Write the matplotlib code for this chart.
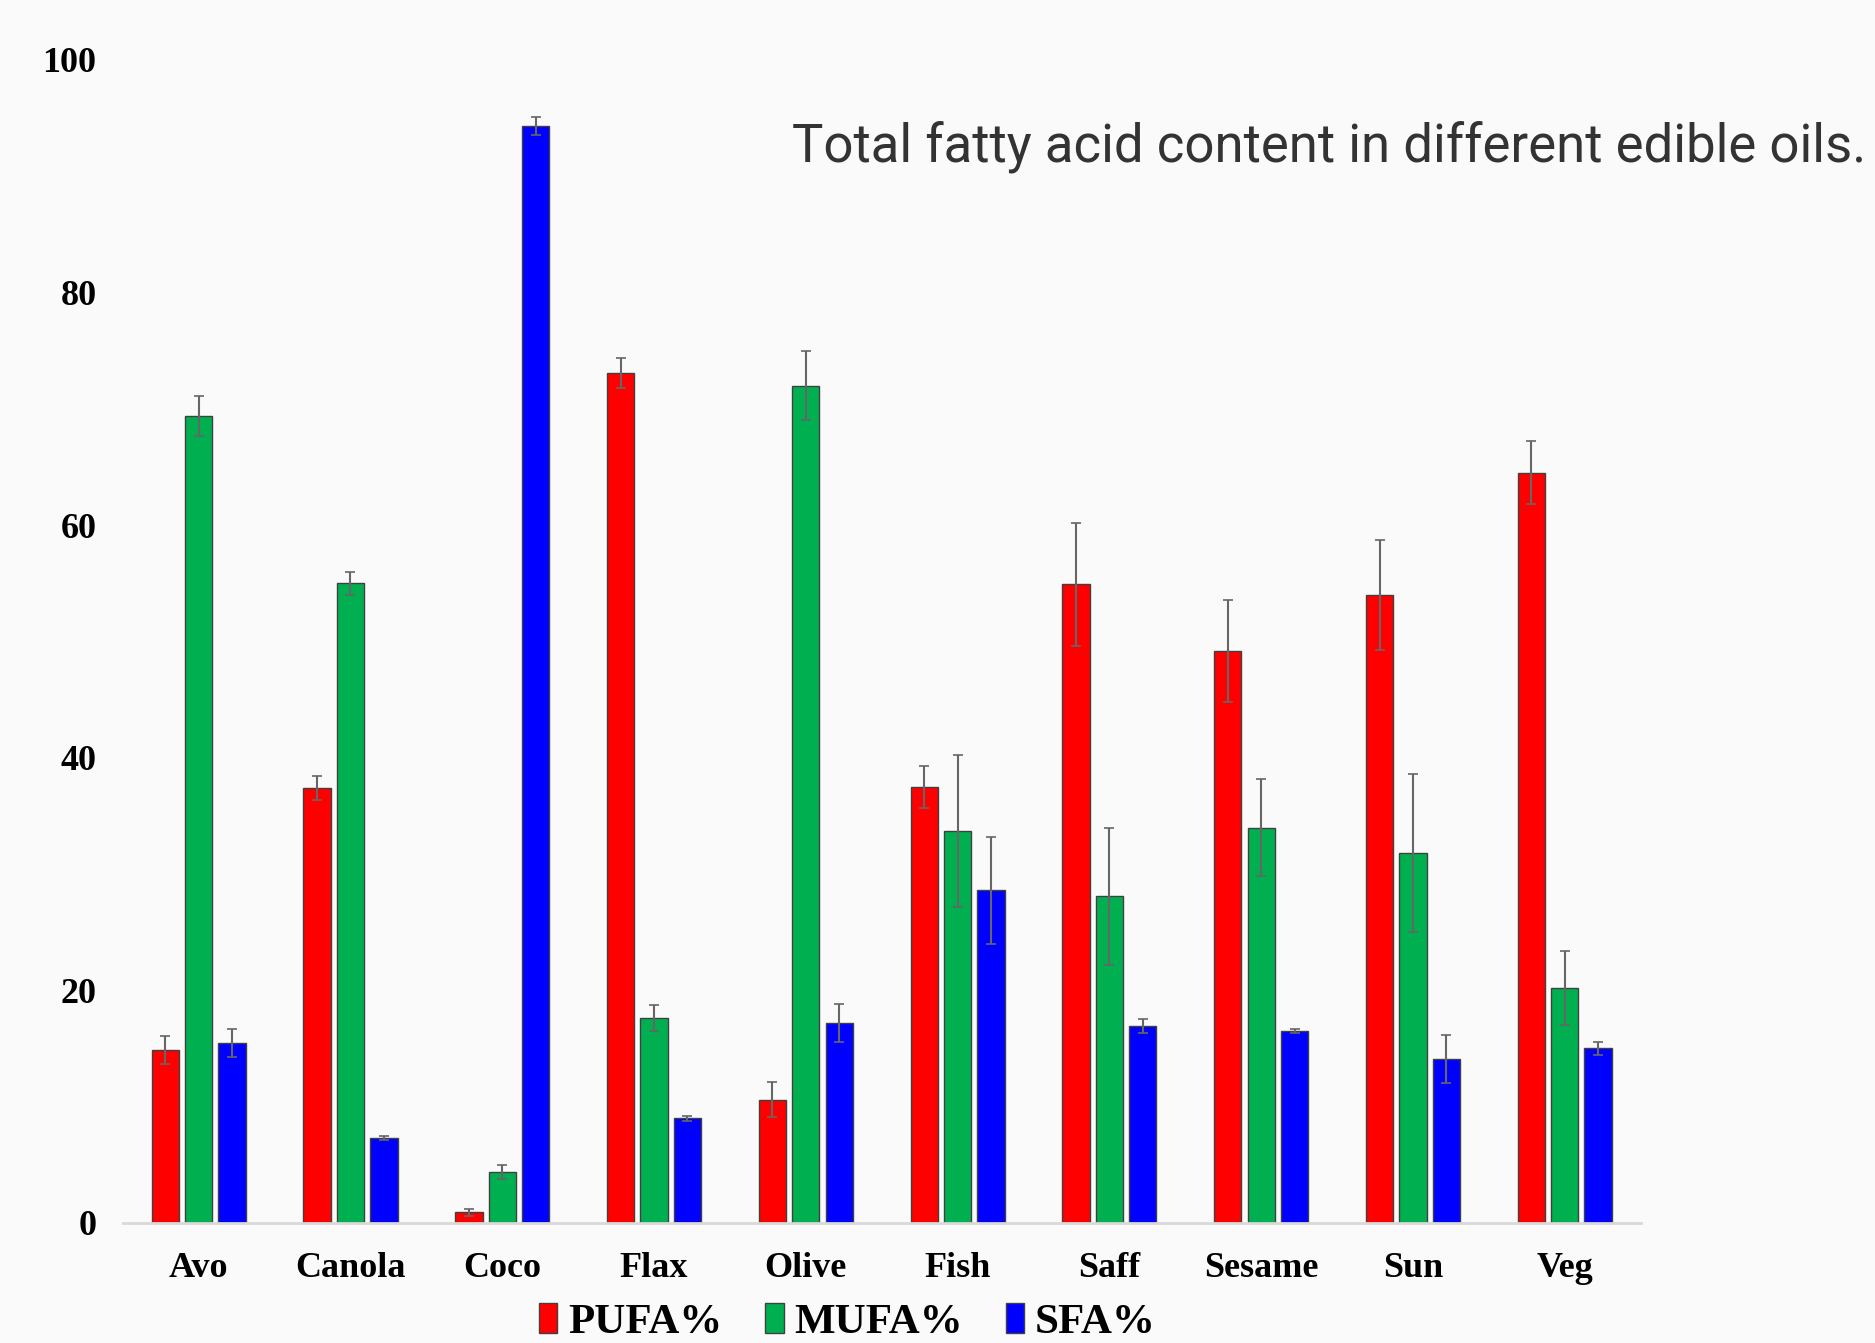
import matplotlib
matplotlib.use("Agg")
import matplotlib.pyplot as plt
import numpy as np

categories = ["Avo", "Canola", "Coco", "Flax", "Olive", "Fish", "Saff", "Sesame", "Sun", "Veg"]
pufa = [14.9, 37.4, 0.9, 73.1, 10.6, 37.5, 54.9, 49.2, 54.0, 64.5]
pufa_err = [1.2, 1.0, 0.3, 1.3, 1.5, 1.8, 5.3, 4.4, 4.7, 2.7]
mufa = [69.4, 55.0, 4.4, 17.6, 72.0, 33.7, 28.1, 34.0, 31.8, 20.2]
mufa_err = [1.7, 1.0, 0.6, 1.1, 3.0, 6.5, 5.9, 4.2, 6.8, 3.2]
sfa = [15.5, 7.3, 94.3, 9.0, 17.2, 28.6, 16.9, 16.5, 14.1, 15.0]
sfa_err = [1.2, 0.2, 0.8, 0.2, 1.6, 4.6, 0.6, 0.2, 2.1, 0.6]
series_names = ["PUFA%", "MUFA%", "SFA%"]
colors = ["#ff0000", "#00b050", "#0000ff"]
yticks = [0, 20, 40, 60, 80, 100]
title = "Total fatty acid content in different edible oils."

bg = "#fafafa"
fig = plt.figure(figsize=(18.75, 13.43), dpi=100, facecolor=bg)
ax = fig.add_axes([0.0655, 0.0894, 0.8095, 0.866], facecolor=bg)

x = np.arange(len(categories))
width = 0.18
offsets = [-0.22, 0.0, 0.22]
handles = []
for vals, errs, c, name, off in zip([pufa, mufa, sfa], [pufa_err, mufa_err, sfa_err], colors, series_names, offsets):
    b = ax.bar(x + off, vals, width, color=c, edgecolor="#404040", linewidth=1.0, label=name,
               yerr=errs, error_kw=dict(ecolor="#666666", elinewidth=1.5, capsize=3.5, capthick=1.2), zorder=2)
    handles.append(b)

ax.set_xlim(-0.5, len(categories) - 0.5)
ax.set_ylim(0, 100)
ax.set_yticks(yticks)
ax.set_xticks(x)
ax.set_xticklabels(categories)
for s in ["top", "right", "left"]:
    ax.spines[s].set_visible(False)
ax.spines["bottom"].set_color("#d9d9d9")
ax.spines["bottom"].set_linewidth(2)
ax.tick_params(axis="both", length=0)
ax.tick_params(axis="y", pad=19)
ax.tick_params(axis="x", pad=21)
for lab in ax.get_xticklabels() + ax.get_yticklabels():
    lab.set_fontfamily("Liberation Serif")
    lab.set_fontweight("bold")
    lab.set_fontsize(26)

fig.text(0.4225, 0.891, title, fontsize=38, family="Roboto", color="#333333", ha="left", va="center")

leg = fig.legend(handles=handles, labels=series_names, loc="center", bbox_to_anchor=(0.452, 0.0150),
                 ncol=3, frameon=False, prop=dict(family="Liberation Serif", weight="bold", size=31),
                 handlelength=0.42, handleheight=0.7, handletextpad=0.25, columnspacing=1.0)

fig.savefig("out.png", dpi=100, facecolor=bg)
